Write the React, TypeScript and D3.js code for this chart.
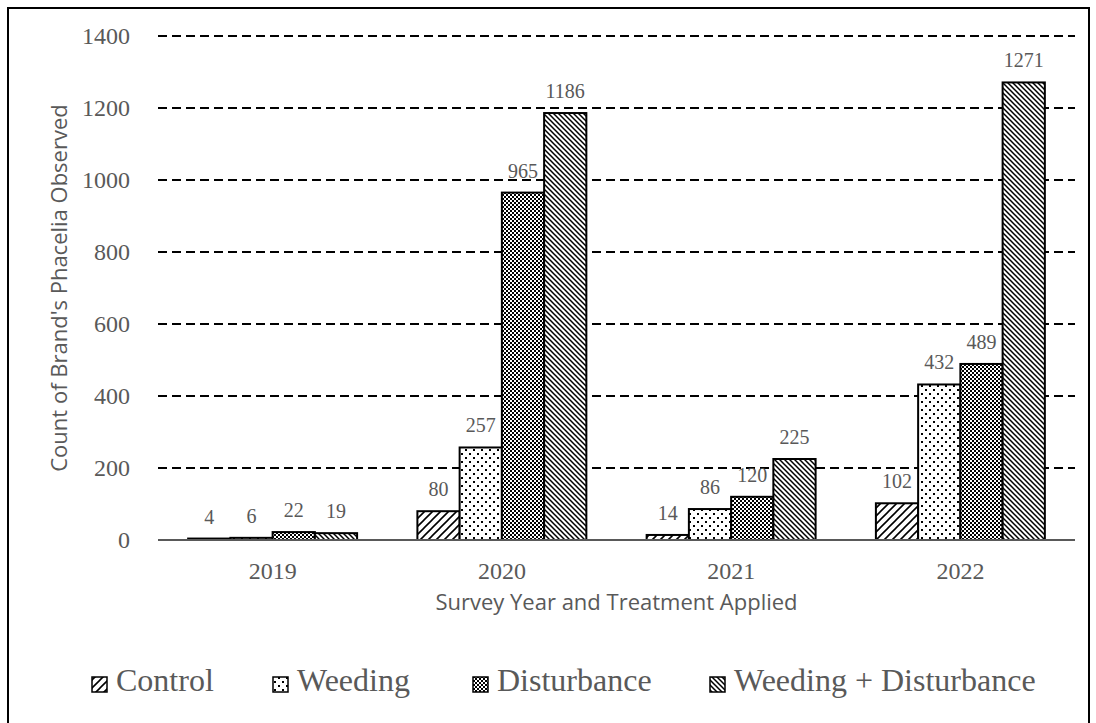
import React from "react";
import * as d3 from "d3";

const years = ["2019", "2020", "2021", "2022"];
const seriesNames = ["Control", "Weeding", "Disturbance", "Weeding + Disturbance"];
const control = [4, 80, 14, 102];
const weeding = [6, 257, 86, 432];
const disturbance = [22, 965, 120, 489];
const weedingDisturbance = [19, 1186, 225, 1271];
const yTicks = [0, 200, 400, 600, 800, 1000, 1200, 1400];

const W = 1096;
const H = 723;
const plot = { left: 158, right: 1075, top: 36, bottom: 540 };
const textGray = "#595959";
const serif = "'Liberation Serif', 'Times New Roman', serif";
const sans = "'Open Sans', 'Noto Sans', sans-serif";

const patternIds = ["pat-control", "pat-weeding", "pat-disturbance", "pat-wd"];
const legendX = [92, 273, 473, 710];

function Patterns() {
  return (
    <defs>
      {/* wide upward diagonal */}
      <pattern id="pat-control" width="8" height="8" patternUnits="userSpaceOnUse">
        <rect width="8" height="8" fill="#fff" />
        <path d="M-2,2 L2,-2 M0,8 L8,0 M6,10 L10,6" stroke="#000" strokeWidth="1.6" />
      </pattern>
      {/* sparse dots */}
      <pattern id="pat-weeding" width="8" height="8" patternUnits="userSpaceOnUse">
        <rect width="8" height="8" fill="#fff" />
        <rect x="1" y="1" width="2" height="2" fill="#000" />
        <rect x="5" y="5" width="2" height="2" fill="#000" />
      </pattern>
      {/* small checkerboard */}
      <pattern id="pat-disturbance" width="4" height="4" patternUnits="userSpaceOnUse">
        <rect width="4" height="4" fill="#fff" />
        <rect x="0" y="0" width="2" height="2" fill="#000" />
        <rect x="2" y="2" width="2" height="2" fill="#000" />
      </pattern>
      {/* dense downward diagonal */}
      <pattern id="pat-wd" width="5" height="5" patternUnits="userSpaceOnUse">
        <rect width="5" height="5" fill="#fff" />
        <path d="M-1,-1 L6,6 M-1,4 L1,6 M4,-1 L6,1" stroke="#000" strokeWidth="1.5" />
      </pattern>
    </defs>
  );
}

export default function App() {
  const series = [control, weeding, disturbance, weedingDisturbance];

  const x0 = d3.scaleBand<string>().domain(years).range([plot.left, plot.right]).paddingInner(0).paddingOuter(0);
  const groupWidth = x0.bandwidth() * 0.737;
  const x1 = d3
    .scaleBand<number>()
    .domain(d3.range(series.length))
    .range([0, groupWidth])
    .padding(0);
  const y = d3.scaleLinear().domain([0, 1400]).range([plot.bottom, plot.top]);

  return (
    <svg
      width={W}
      height={H}
      viewBox={`0 0 ${W} ${H}`}
      style={{ position: "absolute", left: 0, top: 0, background: "#fff" }}
    >
      <Patterns />
      <rect x={0} y={0} width={W} height={H} fill="#fff" />
      {/* outer frame */}
      <rect x={8} y={8} width={1081} height={725} fill="none" stroke="#000" strokeWidth={2} />

      {/* gridlines */}
      {yTicks
        .filter((t) => t > 0)
        .map((t) => (
          <line
            key={t}
            x1={plot.left}
            x2={plot.right}
            y1={y(t)}
            y2={y(t)}
            stroke="#000"
            strokeWidth={2}
            strokeDasharray="9 5"
          />
        ))}

      {/* y tick labels */}
      {yTicks.map((t) => (
        <text
          key={t}
          x={130}
          y={y(t)}
          dy="0.35em"
          textAnchor="end"
          fontFamily={serif}
          fontSize={24}
          fill={textGray}
        >
          {t}
        </text>
      ))}

      {/* bars */}
      {years.map((yr, i) => {
        const gx = (x0(yr) as number) + (x0.bandwidth() - groupWidth) / 2;
        return (
          <g key={yr}>
            {series.map((s, j) => {
              const bx = gx + (x1(j) as number);
              const v = s[i];
              return (
                <rect
                  key={j}
                  x={bx}
                  y={y(v)}
                  width={x1.bandwidth()}
                  height={plot.bottom - y(v)}
                  fill={`url(#${patternIds[j]})`}
                  stroke="#000"
                  strokeWidth={2}
                />
              );
            })}
          </g>
        );
      })}

      {/* x axis line */}
      <line x1={plot.left} x2={plot.right} y1={plot.bottom} y2={plot.bottom} stroke="#595959" strokeWidth={2} />

      {/* data labels */}
      {years.map((yr, i) => {
        const gx = (x0(yr) as number) + (x0.bandwidth() - groupWidth) / 2;
        return series.map((s, j) => {
          const cx = gx + (x1(j) as number) + x1.bandwidth() / 2;
          return (
            <text
              key={`${yr}-${j}`}
              x={cx}
              y={y(s[i]) - 15}
              textAnchor="middle"
              fontFamily={serif}
              fontSize={20}
              fill={textGray}
            >
              {s[i]}
            </text>
          );
        });
      })}

      {/* x tick labels */}
      {years.map((yr) => (
        <text
          key={yr}
          x={(x0(yr) as number) + x0.bandwidth() / 2}
          y={579}
          textAnchor="middle"
          fontFamily={serif}
          fontSize={24}
          fill={textGray}
        >
          {yr}
        </text>
      ))}

      {/* axis titles */}
      <text
        x={(plot.left + plot.right) / 2}
        y={610}
        textAnchor="middle"
        fontFamily={sans}
        fontSize={22}
        fill={textGray}
      >
        Survey Year and Treatment Applied
      </text>
      <text
        transform={`translate(67, ${(plot.top + plot.bottom) / 2}) rotate(-90)`}
        textAnchor="middle"
        fontFamily={sans}
        fontSize={22}
        fill={textGray}
      >
        Count of Brand's Phacelia Observed
      </text>

      {/* legend */}
      {seriesNames.map((name, j) => (
        <g key={name} transform={`translate(${legendX[j]}, 0)`}>
          <rect x={0} y={677} width={15} height={15} fill={`url(#${patternIds[j]})`} stroke="#000" strokeWidth={1.5} />
          <text x={24} y={691} fontFamily={serif} fontSize={32} fill={textGray}>
            {name}
          </text>
        </g>
      ))}
    </svg>
  );
}
